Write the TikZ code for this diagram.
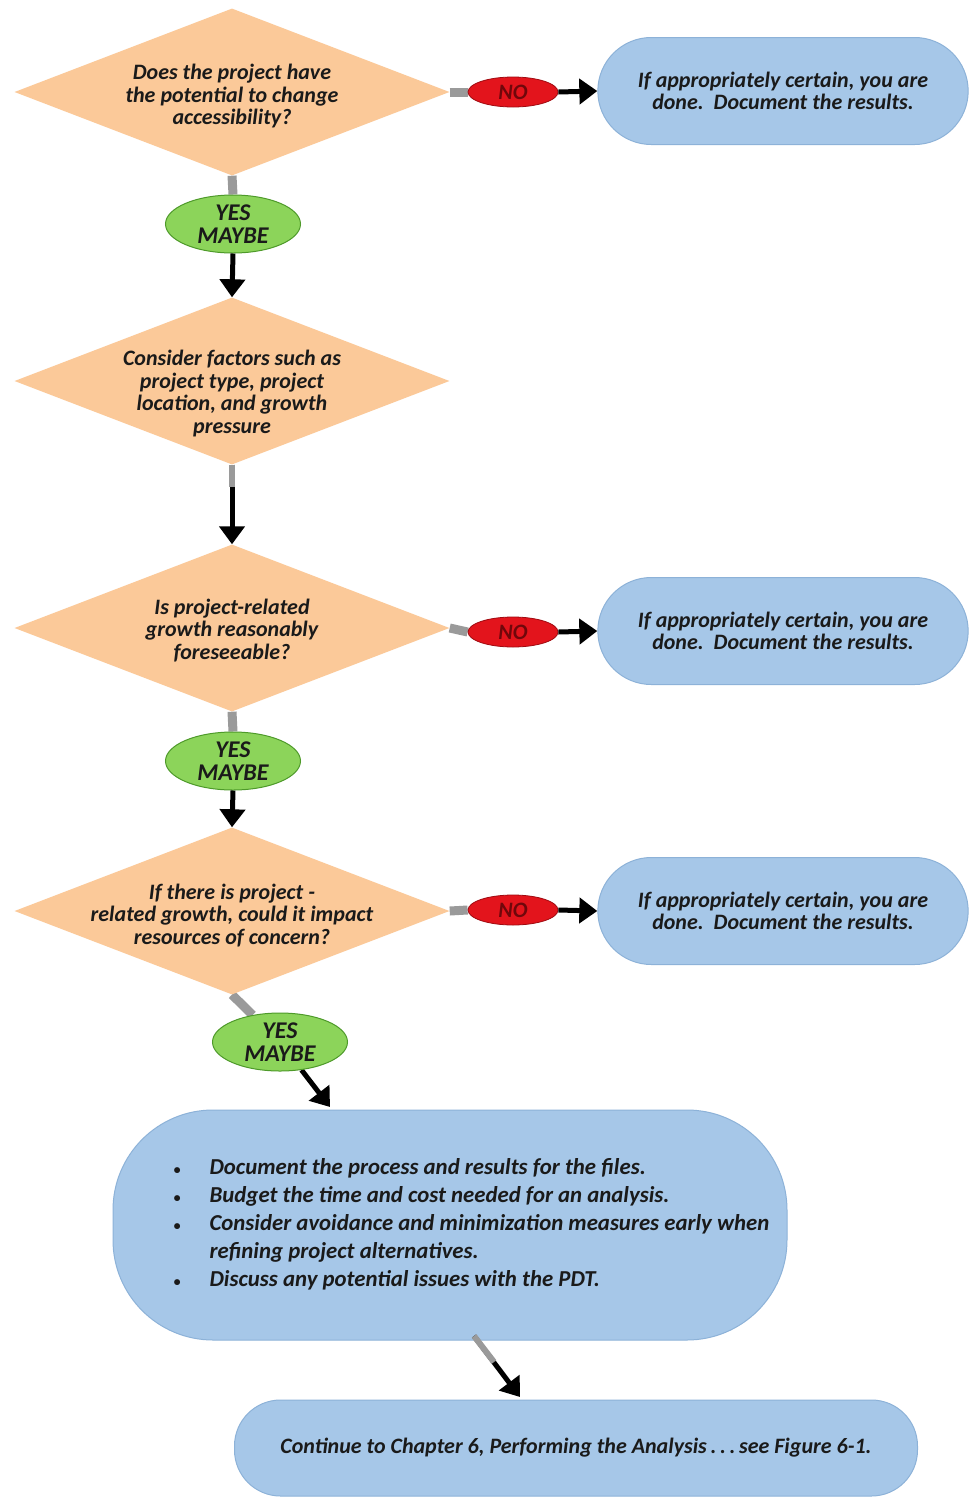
\documentclass[tikz,border=0pt]{standalone}
\usepackage{fontspec}
\newfontfamily\ff{Carlito}
\usetikzlibrary{shapes.geometric,shapes.misc,arrows.meta,backgrounds}
\definecolor{peach}{HTML}{FBC999}
\definecolor{skyb}{HTML}{A6C7E8}
\definecolor{skybd}{HTML}{8DB2D8}
\definecolor{grn}{HTML}{8CD45A}
\definecolor{grnd}{HTML}{4E9A2A}
\definecolor{redn}{HTML}{E3141C}
\definecolor{redd}{HTML}{A00A10}
\definecolor{txt}{HTML}{1A1A1A}
\definecolor{stubc}{HTML}{9A9A9A}
\newcommand{\smbul}{{\fontsize{14}{14}\selectfont\textbullet}}
\begin{document}
\begin{tikzpicture}[x=1pt,y=-1pt,
  every node/.style={font=\ff\bfseries\itshape\fontsize{22}{22.5}\selectfont, text=txt},
  dec/.style={diamond, shape aspect=2.6, fill=peach, minimum width=435pt, minimum height=167pt, inner sep=-12pt, align=center},
  endbox/.style={rounded rectangle, fill=skyb, draw=skybd, line width=1pt, minimum width=377pt, minimum height=107pt, align=center},
  bigbox/.style={rectangle, rounded corners=100pt, fill=skyb, draw=skybd, line width=1pt, minimum width=674pt, minimum height=230pt, align=left},
  finbox/.style={rectangle, rounded corners=46pt, fill=skyb, draw=skybd, line width=1pt, minimum width=683pt, minimum height=96pt, align=center},
  yesell/.style={ellipse, fill=grn, draw=grnd, line width=1pt, minimum width=135pt, minimum height=58pt, inner sep=-6pt, align=center, font=\ff\bfseries\itshape\fontsize{24}{23}\selectfont},
  noell/.style={ellipse, fill=redn, draw=redd, line width=0.8pt, minimum width=90pt, minimum height=30pt, inner sep=-6pt, font=\ff\bfseries\itshape\fontsize{22}{22}\selectfont, text=redd!70!black},
  stub/.style={draw=stubc, line width=9pt},
  blk/.style={draw=black, line width=5pt, -{Triangle[width=25pt,length=18pt]}},
]
\useasboundingbox (0,0) rectangle (974,1497);

% decisions
\node[dec] (d1) at (232,92) {\rule{0pt}{24pt}Does the project have\\the potential to change\\accessibility?};
\node[dec] (d2) at (232,381) {\rule{0pt}{40pt}Consider factors such as\\project type, project\\location, and growth\\pressure};
\node[dec] (d3) at (232,628) {\rule{0pt}{20pt}Is project-related\\growth reasonably\\foreseeable?};
\node[dec] (d4) at (232,911) {\rule{0pt}{24pt}If there is project -\\related growth, could it impact\\resources of concern?};

% end boxes
\node[endbox] (b1) at (783,91) {If appropriately certain, you are\\done.\ \ Document the results.};
\node[endbox] (b2) at (783,631) {If appropriately certain, you are\\done.\ \ Document the results.};
\node[endbox] (b3) at (783,911) {If appropriately certain, you are\\done.\ \ Document the results.};

% NO labels
\node[noell] (n1) at (513,92) {NO};
\node[noell] (n2) at (513,632) {NO};
\node[noell] (n3) at (513,910) {NO};

% YES / MAYBE labels
\node[yesell] (y1) at (233,224) {YES\\MAYBE};
\node[yesell] (y2) at (233,761) {YES\\MAYBE};
\node[yesell] (y3) at (280,1042) {YES\\MAYBE};

% big box
\node[bigbox, font=\ff\bfseries\itshape\fontsize{22.8}{27.8}\selectfont] (bb) at (450,1225) {\hspace*{43pt}\begin{tabular}{@{}l@{\hspace{29pt}}l@{}}
\smbul & Document the process and results for the files.\\
\smbul & Budget the time and cost needed for an analysis.\\
\smbul & Consider avoidance and minimization measures early when\\
 & refining project alternatives.\\
\smbul & Discuss any potential issues with the PDT.
\end{tabular}};

% final box
\node[finbox] (fb) at (576,1448) {Continue to Chapter 6, Performing the Analysis\,.\,.\,.\,see Figure 6-1.};

\coordinate (t3) at (330,1107);
\coordinate (s5) at (474,1336);
\coordinate (m5) at (494,1362);
\coordinate (t5) at (520,1397);

\begin{scope}[on background layer]
  \fill[white] (0,0) rectangle (974,1497);
  % NO branches
  \draw[stub] (d1.east) -- (n1.west);
  \draw[stub] (d3.east) -- (n2.west);
  \draw[stub] (d4.east) -- (n3.west);
  % yes branches
  \draw[stub] (d1.south) -- (y1.north);
  \draw[stub] (d3.south) -- (y2.north);
  \draw[stub] (d4.south) -- (y3);
  \draw[blk] (y3) -- (t3);
\end{scope}
\draw[blk] (n1.east) -- (b1.west);
\draw[blk] (n2.east) -- (b2.west);
\draw[blk] (n3.east) -- (b3.west);
\draw[blk] (y1.south) -- (d2.north);
\draw[blk] (y2.south) -- (d4.north);
\draw[blk] (d2.south) -- (d3.north);
\draw[stub, line width=6pt] (d2.south) -- ++(0,22);
\draw[blk] (s5) -- (t5);
\draw[stub, line width=6pt] (s5) -- (m5);
\end{tikzpicture}
\end{document}
